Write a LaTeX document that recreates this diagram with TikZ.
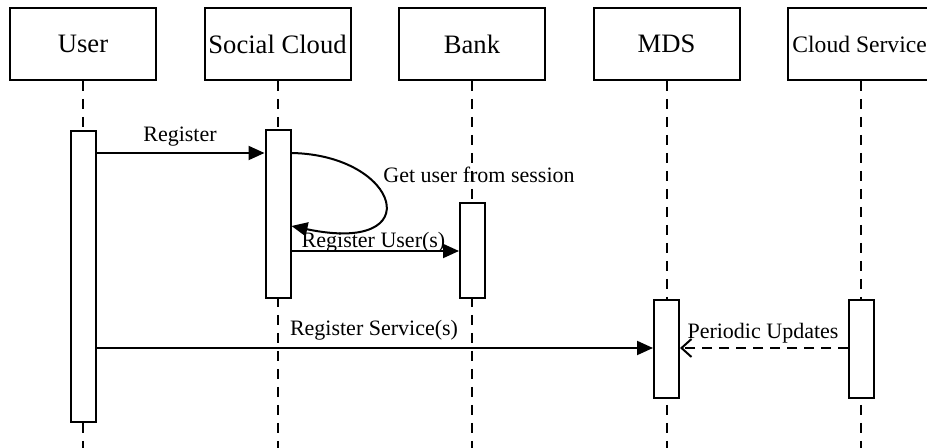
\documentclass[tikz,border=0pt]{standalone}
\usepackage{fontspec}
\setmainfont{Liberation Serif}
\usetikzlibrary{arrows.meta}
\tikzset{
  head/.style={draw, line width=1pt, fill=white, minimum width=73pt, minimum height=36pt,
    inner sep=0pt, font=\fontsize{13.3}{15}\selectfont},
  life/.style={line width=1pt, dash pattern=on 5pt off 4pt},
  bar/.style={draw, line width=1pt, fill=white, anchor=north, minimum width=12.5pt, inner sep=0pt},
  msg/.style={line width=1pt, -{Triangle[length=8pt,width=7pt]}},
  reply/.style={line width=1pt, dash pattern=on 5pt off 3.5pt, -{Straight Barb[length=5pt,width=9pt]}},
  lbl/.style={inner sep=0pt, font=\fontsize{11}{13}\selectfont}
}
\begin{document}
\begin{tikzpicture}[x=0.5pt,y=-0.5pt]
\useasboundingbox (0,0) rectangle (927,448);
\clip (0,0) rectangle (927,448);

% participant heads
\node[head] (user) at (83,44) {User};
\node[head] (social) at (277.5,44) {Social Cloud};
\node[head] (bank) at (472,44) {Bank};
\node[head] (mds) at (666.5,44) {MDS};
\node[head] (cs) at (861,44) {};
\node[lbl, font=\fontsize{11.8}{14}\selectfont, anchor=west] (cstext) at (792,44) {Cloud Service};

% lifelines
\foreach \p in {user,social,bank,mds,cs}
  \draw[life] (\p.south) -- (\p.south |- 0,460);

% activation bars
\node[bar, minimum height=145.5pt] (ubar) at (83.5,130) {};
\node[bar, minimum height=84pt] (sbar) at (278,129) {};
\node[bar, minimum height=47.5pt] (bbar) at (472.5,202) {};
\node[bar, minimum height=49pt] (mbar) at (666.5,299) {};
\node[bar, minimum height=49pt] (cbar) at (861.5,299) {};

% message levels
\coordinate (m1) at (0,153);
\coordinate (m2) at (0,226);
\coordinate (m3) at (0,251);
\coordinate (m4) at (0,348);

% messages
\draw[msg] (ubar.east |- m1) -- (sbar.west |- m1);
\node[lbl] (l1) at (180,137) {Register};

\draw[msg] (sbar.east |- m1) .. controls (400,155) and (430,255) .. (sbar.east |- m2);
\node[lbl, anchor=west] (l2) at (383,175) {Get user from session};

\draw[msg] (sbar.east |- m3) -- (bbar.west |- m3);
\node[lbl] (l3) at (373.5,242) {Register User(s)};

\draw[msg] (ubar.east |- m4) -- (mbar.west |- m4);
\node[lbl] (l4) at (374,330) {Register Service(s)};

\draw[reply] (cbar.west |- m4) -- (mbar.east |- m4);
\node[lbl] (l5) at (763,333) {Periodic Updates};
\end{tikzpicture}
\end{document}
